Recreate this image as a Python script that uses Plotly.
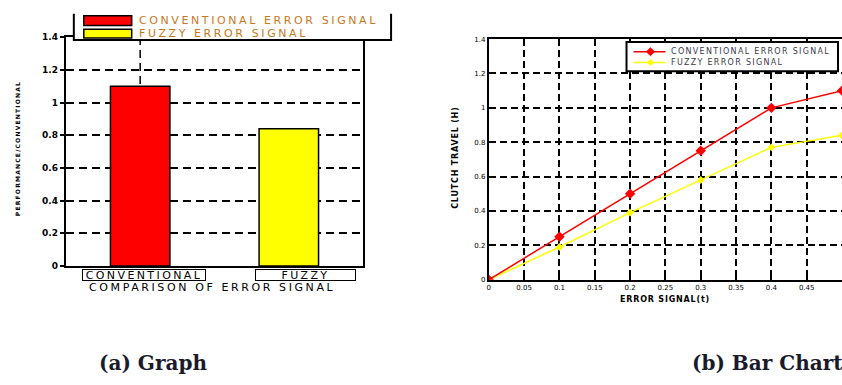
import plotly.graph_objects as go

# ---- data ----
categories = ["CONVENTIONAL", "FUZZY"]
bar_values = [1.10, 0.84]
bar_colors = ["#ff0000", "#ffff00"]
legend_names = ["CONVENTIONAL ERROR SIGNAL", "FUZZY ERROR SIGNAL"]

error_signal = [0.0, 0.1, 0.2, 0.3, 0.4, 0.5]
conventional_travel = [0.0, 0.25, 0.50, 0.75, 1.00, 1.10]
fuzzy_travel = [0.0, 0.19, 0.39, 0.58, 0.77, 0.84]

y_ticks = [0, 0.2, 0.4, 0.6, 0.8, 1.0, 1.2, 1.4]

W, H = 842, 385


def px(x):
    return x / W


def py(y):
    return 1 - y / H


def spaced(text, gap):
    return f'<span style="letter-spacing:{gap}px">{text}</span>'


def diamond(cx, cy, r):
    return (f"M {px(cx)},{py(cy - r)} L {px(cx + r)},{py(cy)} "
            f"L {px(cx)},{py(cy + r)} L {px(cx - r)},{py(cy)} Z")


fig = go.Figure()

# ---- (a) bar comparison ----
fig.add_trace(go.Bar(
    x=categories, y=bar_values, width=0.4,
    marker=dict(color=bar_colors, line=dict(color="black", width=1.5)),
    showlegend=False, xaxis="x", yaxis="y",
))

# ---- (b) clutch travel curves ----
line_sets = [(fuzzy_travel, bar_colors[1], 6), (conventional_travel, bar_colors[0], 8)]
for values, color, size in line_sets:
    fig.add_trace(go.Scatter(
        x=error_signal, y=values, mode="lines+markers",
        line=dict(color=color, width=1.5),
        marker=dict(symbol="diamond", size=size, color=color),
        showlegend=False, xaxis="x2", yaxis="y2",
    ))

axis_common = dict(showline=True, linecolor="black", linewidth=2, zeroline=False)

fig.update_layout(
    width=W, height=H,
    margin=dict(l=0, r=0, t=0, b=0),
    paper_bgcolor="white", plot_bgcolor="white",
    font=dict(family="DejaVu Sans", color="black"),
    showlegend=False,
    xaxis=dict(
        domain=[px(64), px(362)], range=[-0.5, 1.5], type="category",
        showticklabels=False, ticks="", showgrid=False, mirror=True, **axis_common,
    ),
    yaxis=dict(
        domain=[py(268), py(33)], range=[0, 1.4], tickvals=y_ticks,
        ticks="outside", ticklen=4, tickwidth=1.5, tickcolor="black",
        tickfont=dict(family="DejaVu Sans", size=9, color="black", weight="bold"),
        showgrid=True, gridcolor="black", gridwidth=1.5, griddash="8px,5px",
        mirror=True, **axis_common,
    ),
    xaxis2=dict(
        domain=[px(488), 1.0], range=[0, 0.5], dtick=0.05, anchor="y2",
        ticks="inside", ticklen=4, tickwidth=1.5, tickcolor="black",
        tickfont=dict(family="DejaVu Sans", size=7, color="black"),
        showgrid=True, gridcolor="black", gridwidth=1.5, griddash="7px,4px",
        mirror="ticks", **axis_common,
    ),
    yaxis2=dict(
        domain=[py(282), py(35)], range=[0, 1.4], tickvals=y_ticks, anchor="x2",
        ticks="inside", ticklen=4, tickwidth=1.5, tickcolor="black",
        tickfont=dict(family="DejaVu Sans", size=7, color="black"),
        showgrid=True, gridcolor="black", gridwidth=1.5, griddash="7px,4px",
        **axis_common,
    ),
)

shapes = [
    # dashed category guide behind the first bar
    dict(type="line", xref="x", yref="y", x0=categories[0], x1=categories[0], y0=0, y1=1.4,
         line=dict(color="black", width=1.5, dash="8px,5px"), layer="below"),
    # legend panel of the bar chart (open at the top)
    dict(type="rect", xref="paper", yref="paper", x0=px(72), x1=px(390), y0=py(36), y1=py(0),
         fillcolor="white", line=dict(width=0), layer="above"),
    dict(type="path", xref="paper", yref="paper",
         path=f"M {px(72)},{py(9)} L {px(72)},{py(36)} L {px(390)},{py(36)} L {px(390)},{py(9)}",
         line=dict(color="black", width=2), layer="above"),
    # legend panel of the line chart
    dict(type="rect", xref="paper", yref="paper", x0=px(626), x1=px(838), y0=py(68), y1=py(38),
         fillcolor="white", line=dict(color="black", width=2), layer="above"),
]
swatch_rows = [(11, 21), (25, 34)]
for color, (top, bottom) in zip(bar_colors, swatch_rows):
    shapes.append(dict(type="rect", xref="paper", yref="paper",
                       x0=px(82), x1=px(130), y0=py(bottom), y1=py(top),
                       fillcolor=color, line=dict(color="black", width=1.5), layer="above"))

line_rows = [48, 59]
marker_sizes = [4, 3]
for color, row, r in zip(bar_colors, line_rows, marker_sizes):
    shapes.append(dict(type="line", xref="paper", yref="paper",
                       x0=px(633), x1=px(665), y0=py(row), y1=py(row),
                       line=dict(color=color, width=1.5), layer="above"))
    shapes.append(dict(type="path", xref="paper", yref="paper", path=diamond(650, row, r),
                       fillcolor=color, line=dict(color=color, width=1), layer="above"))

annotations = []
for name, (top, bottom) in zip(legend_names, swatch_rows):
    annotations.append(dict(
        text=spaced(name, 2.6), xref="paper", yref="paper",
        x=px(135), y=py((top + bottom) / 2), xanchor="left", yanchor="middle",
        showarrow=False, font=dict(family="DejaVu Sans", size=11, color="#c47a1c"),
    ))
for name, row in zip(legend_names, line_rows):
    annotations.append(dict(
        text=spaced(name, 1.3), xref="paper", yref="paper",
        x=px(669), y=py(row), xanchor="left", yanchor="middle",
        showarrow=False, font=dict(family="DejaVu Sans", size=8, color="#3a3a4a"),
    ))

# boxed category labels under the bars
for cat, shift, box_w in zip(categories, [4, 17], [122, 99]):
    annotations.append(dict(
        text=spaced(cat, 2.4), xref="x", yref="paper", x=cat, y=py(277),
        xanchor="center", yanchor="middle", xshift=shift, showarrow=False,
        width=box_w, height=10, align="center",
        bordercolor="black", borderwidth=1, borderpad=0, bgcolor="rgba(0,0,0,0)",
        font=dict(family="DejaVu Sans", size=11, color="black"),
    ))

annotations += [
    dict(text=spaced("COMPARISON OF ERROR SIGNAL", 2.6), xref="paper", yref="paper",
         x=px(210), y=py(290), xanchor="center", yanchor="middle", showarrow=False,
         font=dict(family="DejaVu Sans", size=11, color="black")),
    dict(text=spaced("PERFORMANCE/CONVENTIONAL", 1.2), xref="paper", yref="paper",
         x=px(15), y=py(147), textangle=-90, xanchor="center", yanchor="middle",
         showarrow=False, font=dict(family="DejaVu Sans", size=6, color="black", weight="bold")),
    dict(text=spaced("ERROR SIGNAL(t)", 0.8), xref="paper", yref="paper",
         x=px(665), y=py(302), xanchor="center", yanchor="middle", showarrow=False,
         font=dict(family="DejaVu Sans", size=8, color="black", weight="bold")),
    dict(text=spaced("CLUTCH TRAVEL (H)", 0.8), xref="paper", yref="paper",
         x=px(455), y=py(157), textangle=-90, xanchor="center", yanchor="middle",
         showarrow=False, font=dict(family="DejaVu Sans", size=8, color="black", weight="bold")),
    dict(text="(a) Graph", xref="paper", yref="paper", x=px(95), y=py(368),
         xanchor="left", yanchor="middle", showarrow=False,
         font=dict(family="DejaVu Serif", size=20, color="#1a1a2a", weight="bold")),
    dict(text="(b) Bar Chart", xref="paper", yref="paper", x=px(690), y=py(368),
         xanchor="left", yanchor="middle", showarrow=False,
         font=dict(family="DejaVu Serif", size=20, color="#1a1a2a", weight="bold")),
]

fig.update_layout(shapes=shapes, annotations=annotations)

fig.write_html("out.html")
